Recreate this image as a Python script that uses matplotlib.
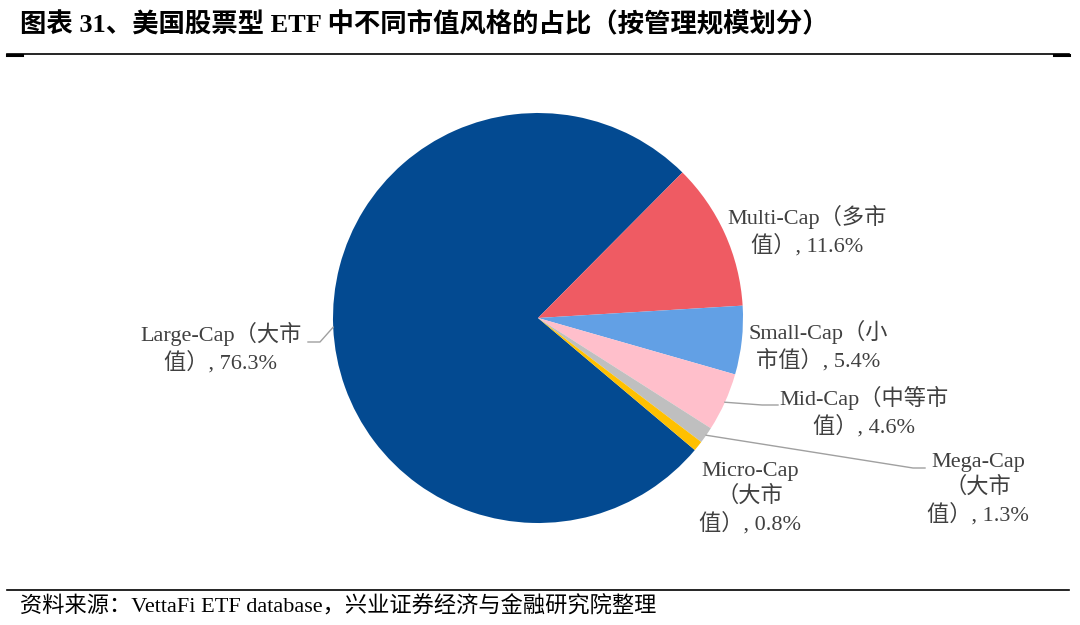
import numpy as np
import matplotlib.pyplot as plt

plt.rcParams['font.family'] = ['Liberation Serif', 'Noto Sans CJK SC', 'DejaVu Sans']

# 数据
rotulos = ['Large-Cap（大市\n值）, 76.3%', 'Multi-Cap（多市\n值）, 11.6%', 'Small-Cap（小\n市值）, 5.4%',
           'Mid-Cap（中等市\n值）, 4.6%', 'Mega-Cap\n（大市\n值）, 1.3%', 'Micro-Cap\n（大市\n值）, 0.8%']
valores = [76.3, 11.6, 5.4, 4.6, 1.3, 0.8]
cores = ['#034A91', '#EF5B63', '#62A0E5', '#FFBFCB', '#BFBFBF', '#FFC000']

titulo = '图表 31、美国股票型 ETF 中不同市值风格的占比（按管理规模划分）'
fonte = '资料来源：VettaFi ETF database，兴业证券经济与金融研究院整理'

W, H = 1080, 625
fig = plt.figure(figsize=(W / 100, H / 100), dpi=100)
ax = fig.add_axes([0, 0, 1, 1])

cx, cy, r = 538, H - 318, 205
wedges, _ = ax.pie(valores, colors=cores, startangle=-40.1, counterclock=False,
                   center=(cx, cy), radius=r, frame=True)
ax.set_xlim(0, W)
ax.set_ylim(0, H)
ax.set_aspect('equal')
ax.axis('off')

cor_texto = '#404040'
fs = 16


def borda(i):
    w = wedges[i]
    ang = np.deg2rad((w.theta1 + w.theta2) / 2)
    return cx + r * np.cos(ang), cy + r * np.sin(ang)


# posicoes dos textos (pixels, y para baixo)
pos = [(221, 348), (807, 231), (818, 346), (864, 412), (978, 489), (750, 498)]
for i, (tx, ty) in enumerate(pos):
    ax.text(tx, H - ty, rotulos[i], ha='center', va='center', fontsize=fs,
            color=cor_texto, linespacing=1.3)

# linhas de chamada
cor_linha = '#A0A0A0'
x0, y0 = borda(0)
ax.plot([x0, 320, 308], [y0, H - 342, H - 342], color=cor_linha, lw=1)
x0, y0 = borda(3)
ax.plot([x0, 762, 778], [y0, H - 405, H - 405], color=cor_linha, lw=1)
x0, y0 = borda(4)
ax.plot([x0, 913, 925], [y0, H - 468, H - 468], color=cor_linha, lw=1)

# titulo e rodape
ax.text(20, H - 25, titulo, ha='left', va='center', fontsize=19, fontweight='bold', color='black')
ax.plot([7, 1069], [H - 54, H - 54], color='black', lw=1.2)
ax.plot([7, 22], [H - 55, H - 55], color='black', lw=2.2)
ax.plot([1054, 1069], [H - 55, H - 55], color='black', lw=2.2)
ax.plot([7, 1069], [H - 590, H - 590], color='black', lw=1.2)
ax.text(20, H - 607, fonte, ha='left', va='center', fontsize=16, color='black')

plt.savefig('out.png', dpi=100)
